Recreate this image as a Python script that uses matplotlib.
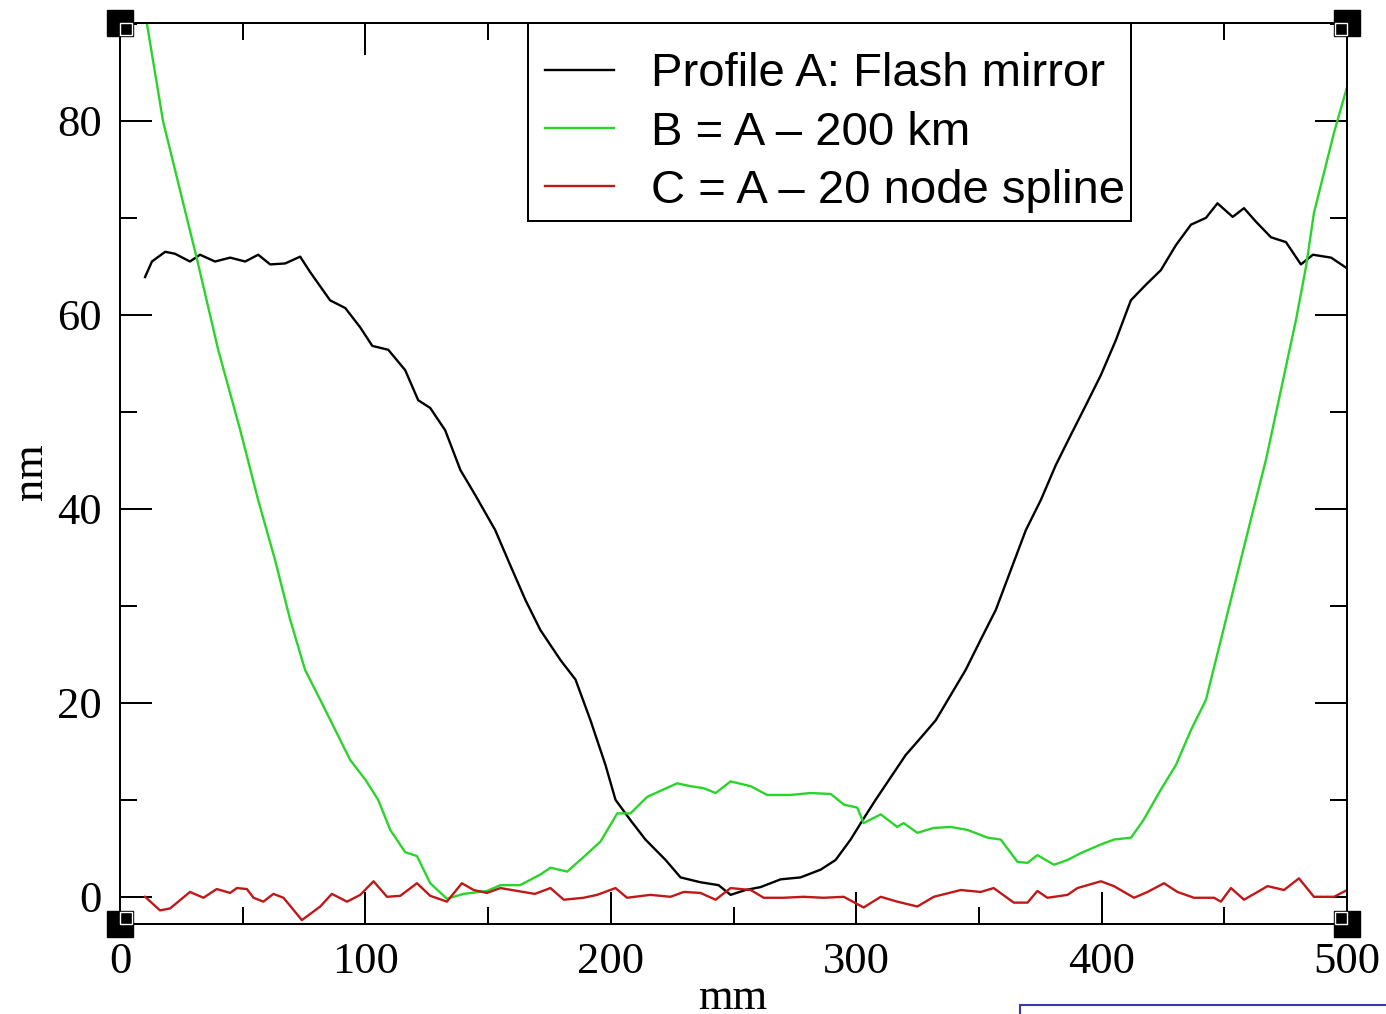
import matplotlib
matplotlib.use("Agg")
import matplotlib.pyplot as plt
from matplotlib.patches import Rectangle
from matplotlib.ticker import MultipleLocator

# profile A: measured flash mirror (mm, nm)
a_x = [10.2, 13, 18.4, 22.4, 28.5, 32.6, 38.7, 44.9, 51, 56.3,
       61.2, 67.3, 73.4, 77.5, 85.6, 91.8, 97.9, 102.8, 109.3, 116.2,
       121.5, 126.4, 132.5, 138.7, 144.8, 152.9, 159, 165.2, 171.3, 179.5,
       185.6, 191.7, 197.8, 201.9, 208, 214.1, 222.3, 228.4, 236.5, 243.9,
       248.8, 254.9, 261, 269.2, 277.3, 285.5, 291.6, 297.7, 302.6, 307.9,
       314, 320.1, 326.3, 332.4, 338.5, 344.6, 350.7, 356.9, 363, 369.1,
       375.2, 381.3, 387.4, 393.6, 399.7, 405.8, 411.9, 418, 424.1, 430.3,
       436.4, 442.5, 447.2, 453.4, 458, 462.9, 469, 475.1, 481.2, 486.1,
       493.5, 500]
a_y = [63.9, 65.5, 66.5, 66.3, 65.5, 66.2, 65.5, 65.9, 65.5, 66.2,
       65.2, 65.3, 66.0, 64.4, 61.5, 60.7, 58.7, 56.8, 56.4, 54.3,
       51.2, 50.4, 48.1, 44.0, 41.4, 37.8, 34.2, 30.6, 27.5, 24.4,
       22.4, 18.2, 13.6, 10.0, 7.9, 5.9, 3.8, 2.0, 1.5, 1.2,
       0.2, 0.7, 1.0, 1.8, 2.0, 2.8, 3.8, 5.9, 7.9, 10.0,
       12.3, 14.6, 16.4, 18.2, 20.8, 23.4, 26.5, 29.6, 33.7, 37.8,
       40.9, 44.5, 47.6, 50.7, 53.8, 57.4, 61.5, 63.1, 64.6, 67.2,
       69.3, 70.0, 71.5, 70.1, 71.0, 69.6, 68.0, 67.5, 65.2, 66.2,
       65.9, 64.8]

# profile B = A - 200 km
b_x = [10, 17.5, 31.4, 40, 49, 56.3, 63.2, 69.3, 75.4, 81.6,
       87.7, 93.8, 99.9, 105.2, 110.1, 116.2, 121, 126.4, 133.2, 140,
       149.5, 155, 163, 171.3, 175.4, 182.2, 188.9, 195.8, 202.6, 208,
       214.8, 227, 232.5, 237.8, 242.7, 248.8, 257, 263.7, 273.2, 281.4,
       289.6, 295, 300.4, 303, 310, 316.7, 319.3, 324.9, 331.6, 338.5,
       345.3, 353.5, 358.9, 365.7, 369.8, 373.8, 380.6, 386.1, 391.5, 399.7,
       405, 412, 417, 424, 430.3, 436.4, 442.5, 448.6, 454.7, 460.8,
       467, 473.1, 479.2, 483.3, 486.5, 494.7, 500]
b_y = [91.5, 80, 65.7, 56.4, 48.1, 40.9, 34.7, 28.6, 23.4, 20.3,
       17.2, 14.1, 12.1, 10.0, 6.9, 4.6, 4.2, 1.4, -0.2, 0.3,
       0.6, 1.2, 1.2, 2.3, 3.0, 2.6, 4.1, 5.7, 8.6, 8.6,
       10.3, 11.7, 11.4, 11.2, 10.7, 11.9, 11.4, 10.5, 10.5, 10.7,
       10.6, 9.5, 9.2, 7.6, 8.5, 7.2, 7.6, 6.6, 7.1, 7.2,
       6.9, 6.1, 5.9, 3.6, 3.5, 4.3, 3.3, 3.8, 4.5, 5.4,
       5.9, 6.1, 7.9, 11, 13.6, 17.2, 20.3, 26.5, 32.7, 38.9,
       45.1, 52.3, 59.5, 65, 70.5, 78.8, 83.5]

# profile C = A - 20 node spline
c_x = [10.2, 16.3, 20.4, 28.5, 34, 39.4, 44.9, 47.6, 51.7, 54.4,
       58.4, 62.5, 66.6, 74.1, 81.6, 86.3, 92.5, 97.9, 103.3, 108.8,
       114.2, 121, 126.4, 133.2, 139.3, 144.1, 149.5, 155, 162, 169,
       175.4, 180.8, 188.9, 194.4, 201.9, 206.6, 216.1, 224.3, 229.7, 236.5,
       242.7, 248.8, 257, 262.3, 270.4, 278.5, 286.7, 294.9, 303, 310,
       316.7, 324.9, 331.6, 342.6, 350.7, 356, 364.2, 369.8, 373.8, 377.9,
       386.1, 390.1, 399.7, 405, 413.2, 418.7, 425.4, 430.9, 437.6, 445.8,
       448.6, 452.7, 458, 464.9, 467.6, 474.3, 480.4, 486.5, 494.7, 500]
c_y = [0.0, -1.4, -1.2, 0.5, -0.1, 0.8, 0.4, 0.9, 0.8, -0.1,
       -0.5, 0.3, -0.1, -2.4, -1.0, 0.3, -0.5, 0.2, 1.6, 0.0,
       0.1, 1.4, 0.1, -0.5, 1.4, 0.7, 0.4, 0.9, 0.6, 0.3,
       0.9, -0.3, -0.1, 0.2, 0.9, -0.1, 0.2, 0.0, 0.5, 0.4,
       -0.3, 0.9, 0.7, -0.1, -0.1, 0.0, -0.1, 0.0, -1.1, 0.0,
       -0.5, -1.0, 0.0, 0.7, 0.5, 0.9, -0.6, -0.6, 0.6, -0.1,
       0.2, 0.9, 1.6, 1.1, -0.1, 0.5, 1.4, 0.5, -0.1, -0.1,
       -0.5, 0.9, -0.3, 0.7, 1.1, 0.7, 1.9, 0.0, 0.0, 0.7]

labels = ["Profile A: Flash mirror", "B = A \u2013 200 km", "C = A \u2013 20 node spline"]
colors = ["black", "#2ad42a", "#c01818"]

XLIM = (0, 500)
YLIM = (-2.8, 90.1)
SERIF = "Liberation Serif"
SANS = "Liberation Sans"

fig = plt.figure(figsize=(13.86, 10.14), dpi=100)
ax = fig.add_axes([0.0866, 0.0888, 0.8853, 0.8886])

ax.plot(a_x, a_y, color=colors[0], lw=1.7, label=labels[0])
ax.plot(b_x, b_y, color=colors[1], lw=1.7, label=labels[1])
ax.plot(c_x, c_y, color=colors[2], lw=1.7, label=labels[2])

ax.set_xlim(*XLIM)
ax.set_ylim(*YLIM)

ax.xaxis.set_major_locator(MultipleLocator(100))
ax.xaxis.set_minor_locator(MultipleLocator(50))
ax.yaxis.set_major_locator(MultipleLocator(20))
ax.yaxis.set_minor_locator(MultipleLocator(10))
ax.tick_params(which="both", direction="in", top=True, right=True, width=1.44, color="k")
ax.tick_params(which="major", length=23, pad=13)
ax.tick_params(which="minor", length=12)
for lab in ax.get_xticklabels() + ax.get_yticklabels():
    lab.set_fontfamily(SERIF)
    lab.set_fontsize(32)
for sp in ax.spines.values():
    sp.set_linewidth(1.44)

# corner blocks of the frame
cx = [XLIM[0], XLIM[1], XLIM[0], XLIM[1]]
cy = [YLIM[0], YLIM[0], YLIM[1], YLIM[1]]
ax.plot(cx, cy, ls="none", marker="s", ms=18.7, color="k", clip_on=False, zorder=6)
dx, dy = 2.45, 0.62
ix = [XLIM[0] + dx, XLIM[1] - dx, XLIM[0] + dx, XLIM[1] - dx]
iy = [YLIM[0] + dy, YLIM[0] + dy, YLIM[1] - dy, YLIM[1] - dy]
ax.plot(ix, iy, ls="none", marker="s", ms=8.6, mfc="k", mec="w", mew=1.0, clip_on=False, zorder=7)

ax.set_xlabel("mm", fontfamily=SERIF, fontsize=32)
ax.xaxis.set_label_coords(733 / 1386, 5 / 1014, transform=fig.transFigure)
ax.xaxis.label.set_va("baseline")
ax.set_ylabel("nm", fontfamily=SERIF, fontsize=32)
ax.yaxis.set_label_coords(42 / 1386, 1 - 472 / 1014, transform=fig.transFigure)
ax.yaxis.label.set_va("baseline")

# legend: white box drawn separately (covers the top ticks), rows placed inside it
ax.add_patch(Rectangle((0.3328, 0.780), 0.491, 0.22, transform=ax.transAxes,
                       facecolor="white", edgecolor="k", lw=1.44, clip_on=False, zorder=8))
leg = ax.legend(loc="upper left", bbox_to_anchor=(0.3345, 0.983), borderaxespad=0,
                prop={"family": SANS, "size": 34}, labelspacing=0.3,
                handlelength=1.47, handletextpad=0.78, borderpad=0.3,
                frameon=False)
leg.set_zorder(9)

# partial blue box at the lower right edge of the slide
fig.add_artist(Rectangle((1020 / 1386, -0.05), 0.3, 0.05 + 9 / 1014,
                         transform=fig.transFigure, fill=False,
                         edgecolor="#3a3ab0", lw=1.5))

fig.savefig("out.png", dpi=100)
